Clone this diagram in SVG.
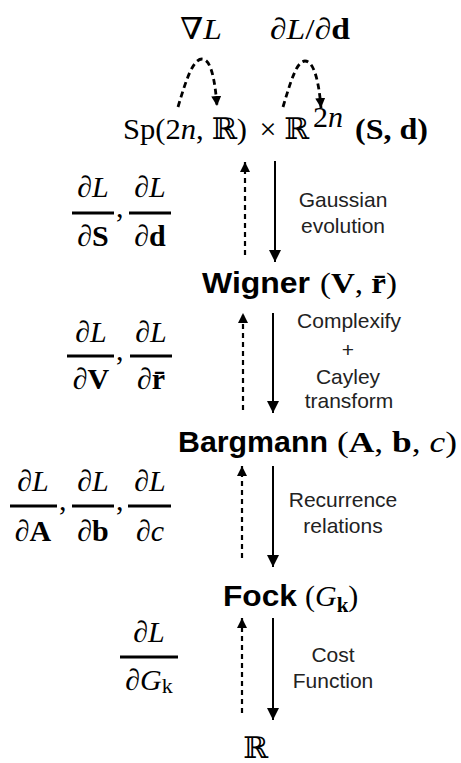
<svg xmlns="http://www.w3.org/2000/svg" width="461" height="763" viewBox="0 0 461 763">
<style>
.m{font-family:"Liberation Serif","DejaVu Serif",serif;font-size:30px;fill:#000}
.i{font-style:italic}
.b{font-weight:bold}
.n{font-family:"Liberation Sans",Arial,sans-serif;font-size:30px;font-weight:bold;fill:#000}
.l{font-family:"Liberation Sans",Arial,sans-serif;font-size:21px;fill:#222;text-anchor:middle}
.c{text-anchor:middle}
.solid{stroke:#000;stroke-width:2;fill:none}
.dash{stroke:#000;stroke-width:2.2;fill:none;stroke-dasharray:5 4}
.dash2{stroke:#000;stroke-width:2.8;fill:none;stroke-dasharray:6 4}
.bar{stroke:#000;stroke-width:3}
</style>
<defs>
<marker id="ah" viewBox="0 0 10 10" refX="10" refY="5" markerWidth="10" markerHeight="10" markerUnits="userSpaceOnUse" orient="auto">
<path d="M0,0 L10,5 L0,10 z" fill="#000"/>
</marker>
<marker id="ahs" viewBox="0 0 10 10" refX="10" refY="5" markerWidth="12" markerHeight="12" markerUnits="userSpaceOnUse" orient="auto">
<path d="M0,0 L10,5 L0,10 z" fill="#000"/>
</marker>
</defs>

<g id="grad-top">
<text class="m" x="180" y="39" font-size="30" textLength="42" lengthAdjust="spacingAndGlyphs">∇<tspan class="i">L</tspan></text>
<text class="m" x="270" y="39" font-size="30" textLength="80" lengthAdjust="spacingAndGlyphs">∂<tspan class="i">L</tspan>/∂<tspan class="b">d</tspan></text>
</g>

<g id="node-sp">
<text class="m" x="123" y="139" textLength="124" lengthAdjust="spacingAndGlyphs">Sp(2<tspan class="i">n</tspan>, ℝ)</text>
<text class="m c" x="268" y="139">×</text>
<text class="m" x="284" y="139">ℝ</text>
<text class="m" x="313" y="127" font-size="22">2<tspan class="i">n</tspan></text>
<text class="m b" x="355" y="139" font-size="32" textLength="73" lengthAdjust="spacingAndGlyphs">(S, d)</text>
</g>

<g id="node-wigner">
<text class="n" x="202" y="293" textLength="108" lengthAdjust="spacingAndGlyphs">Wigner</text>
<text class="m" x="320" y="293" font-size="31" textLength="77" lengthAdjust="spacingAndGlyphs">(<tspan class="b">V</tspan>, <tspan class="b">r̄</tspan>)</text>
</g>

<g id="node-bargmann">
<text class="n" x="178" y="452" textLength="150" lengthAdjust="spacingAndGlyphs">Bargmann</text>
<text class="m" x="337" y="452" font-size="32" textLength="120" lengthAdjust="spacingAndGlyphs">(<tspan class="b">A</tspan>, <tspan class="b">b</tspan>, <tspan class="i">c</tspan>)</text>
</g>

<g id="node-fock">
<text class="n" x="223" y="606" textLength="74" lengthAdjust="spacingAndGlyphs">Fock</text>
<text class="m" x="305" y="606" font-size="31">(<tspan class="i">G</tspan><tspan class="b" font-size="21" dy="6">k</tspan><tspan dy="-6">)</tspan></text>
</g>

<g id="node-real">
<text class="m" x="243" y="758" font-size="33">ℝ</text>
</g>

<g id="grad-sd">
<text class="m c" x="93" y="197">∂<tspan class="i">L</tspan></text>
<line class="bar" x1="72" y1="213" x2="114" y2="213"/>
<text class="m c" x="93" y="246">∂<tspan class="b">S</tspan></text>
<text class="m" x="116" y="217">,</text>
<text class="m c" x="150" y="197">∂<tspan class="i">L</tspan></text>
<line class="bar" x1="129" y1="213" x2="171" y2="213"/>
<text class="m c" x="150" y="246">∂<tspan class="b">d</tspan></text>
</g>

<g id="grad-vr">
<text class="m c" x="91" y="342">∂<tspan class="i">L</tspan></text>
<line class="bar" x1="67" y1="356" x2="114" y2="356"/>
<text class="m c" x="91" y="389">∂<tspan class="b">V</tspan></text>
<text class="m" x="116" y="360">,</text>
<text class="m c" x="151" y="342">∂<tspan class="i">L</tspan></text>
<line class="bar" x1="130" y1="356" x2="172" y2="356"/>
<text class="m c" x="151" y="389">∂<tspan class="b">r̄</tspan></text>
</g>

<g id="grad-abc">
<text class="m c" x="33" y="491">∂<tspan class="i">L</tspan></text>
<line class="bar" x1="10" y1="506" x2="57" y2="506"/>
<text class="m c" x="33" y="541">∂<tspan class="b">A</tspan></text>
<text class="m" x="59" y="510">,</text>
<text class="m c" x="93" y="491">∂<tspan class="i">L</tspan></text>
<line class="bar" x1="72" y1="506" x2="114" y2="506"/>
<text class="m c" x="93" y="541">∂<tspan class="b">b</tspan></text>
<text class="m" x="116" y="510">,</text>
<text class="m c" x="150" y="491">∂<tspan class="i">L</tspan></text>
<line class="bar" x1="128" y1="506" x2="171" y2="506"/>
<text class="m c" x="150" y="541">∂<tspan class="i">c</tspan></text>
</g>

<g id="grad-g">
<text class="m c" x="149" y="642">∂<tspan class="i">L</tspan></text>
<line class="bar" x1="120" y1="657" x2="178" y2="657"/>
<text class="m c" x="149" y="690">∂<tspan class="i">G</tspan><tspan font-size="22" dy="3">k</tspan></text>
</g>

<g id="edge-labels">
<text class="l" x="343" y="207">Gaussian</text>
<text class="l" x="343" y="233">evolution</text>
<text class="l" x="349" y="328">Complexify</text>
<text class="l" x="348" y="357">+</text>
<text class="l" x="348" y="384">Cayley</text>
<text class="l" x="349" y="408">transform</text>
<text class="l" x="343" y="507">Recurrence</text>
<text class="l" x="343" y="533">relations</text>
<text class="l" x="333" y="662">Cost</text>
<text class="l" x="333" y="688">Function</text>
</g>

<g id="connectors">
<path class="dash2" d="M178,107 C186,80 193,59 202,59 C211,59 215,80 217,106" marker-end="url(#ah)"/>
<path class="dash2" d="M283,107 C291,80 297,61 305,61 C314,61 319,82 321,108" marker-end="url(#ah)"/>
<line class="dash" x1="245" y1="255" x2="245" y2="162" marker-end="url(#ah)"/>
<line class="solid" x1="275" y1="161" x2="275" y2="262" marker-end="url(#ahs)"/>
<line class="dash" x1="243" y1="410" x2="243" y2="313" marker-end="url(#ah)"/>
<line class="solid" x1="273" y1="313" x2="273" y2="413" marker-end="url(#ahs)"/>
<line class="dash" x1="242" y1="558" x2="242" y2="466" marker-end="url(#ah)"/>
<line class="solid" x1="273" y1="466" x2="273" y2="567" marker-end="url(#ahs)"/>
<line class="dash" x1="242" y1="713" x2="242" y2="618" marker-end="url(#ah)"/>
<line class="solid" x1="273" y1="618" x2="273" y2="720" marker-end="url(#ahs)"/>
</g>
</svg>
